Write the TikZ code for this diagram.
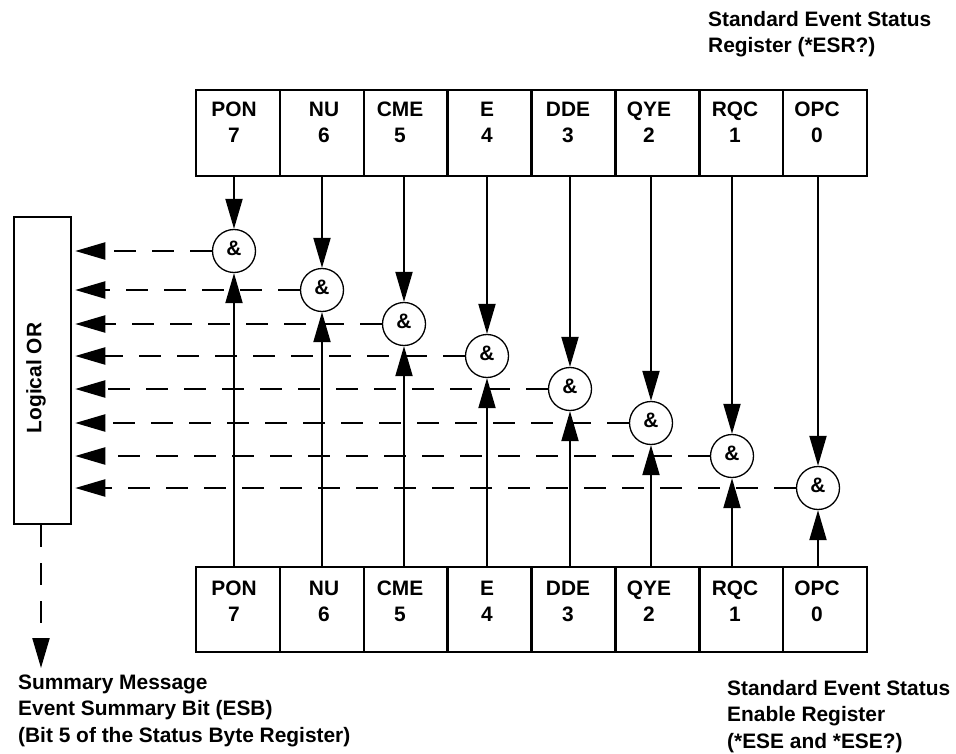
\documentclass[tikz,border=0pt]{standalone}
\usepackage{fontspec}
\setmainfont{Liberation Sans}
\usetikzlibrary{arrows.meta,calc}
\begin{document}
\begin{tikzpicture}[x=1pt,y=-1pt,
  font=\fontsize{20.9}{26.5}\selectfont\bfseries,
  cell/.style={draw,line width=2.5pt,minimum width=83.875pt,minimum height=86pt,inner sep=0,outer sep=0,anchor=north west},
  andgate/.style={circle,draw,line width=1.3pt,minimum size=43pt,inner sep=0,text depth=6pt},
  tri/.style={-{Triangle[length=30pt,width=17pt]}},
  solidarr/.style={tri,line width=2pt},
  dasharr/.style={tri,line width=2.2pt,dash pattern=on 22pt off 16pt},
  lbl/.style={anchor=base,inner sep=0},
  txt/.style={anchor=base west,inner sep=0}
]
\useasboundingbox (0,0) rectangle (956,754);

\node[draw,line width=2.5pt,minimum width=57pt,minimum height=307pt,inner sep=0] (orbox) at (42.5,370.5) {};
\node[rotate=90,inner sep=0] (orlbl) at (36,378) {Logical OR};

\foreach \n/\b/\lx/\tx/\cy [count=\i from 0] in
  {PON/7/234/234/251, NU/6/322/324/290, CME/5/404/400/324, E/4/487/487/356,
   DDE/3/570/568/389, QYE/2/651/649/423, RQC/1/732/735/456, OPC/0/818/817/488}
{
  \node[cell] (t\b) at ({196+83.875*\i},90) {};
  \node[cell,minimum height=85pt] (b\b) at ({196+83.875*\i},567) {};
  \node[lbl] (tl\b) at (\tx,117) {\n};
  \node[lbl] (tn\b) at (\tx,143) {\b};
  \node[lbl] (bl\b) at (\tx,595) {\n};
  \node[lbl] (bn\b) at (\tx,621) {\b};
  \node[andgate] (g\b) at (\lx,\cy) {\&};
  \draw[solidarr] (g\b.north |- t\b.south) -- (g\b.north);
  \draw[solidarr] (g\b.south |- b\b.north) -- (g\b.south);
  \draw[dasharr,shorten >=3pt] (g\b.west) -- (g\b.west -| orbox.east);
}

\coordinate (esb) at (41,668);
\draw[dasharr] (orbox.south -| esb) -- (esb);

\node[txt] (esr) at (708,26.5) {\begin{tabular}[t]{@{}l@{}}Standard Event Status\\Register (*ESR?)\end{tabular}};
\node[txt] (sum) at (18,689) {\begin{tabular}[t]{@{}l@{}}Summary Message\\Event Summary Bit (ESB)\\(Bit 5 of the Status Byte Register)\end{tabular}};
\node[txt] (ese) at (727,695) {\begin{tabular}[t]{@{}l@{}}Standard Event Status\\Enable Register\\(*ESE and *ESE?)\end{tabular}};
\end{tikzpicture}
\end{document}
